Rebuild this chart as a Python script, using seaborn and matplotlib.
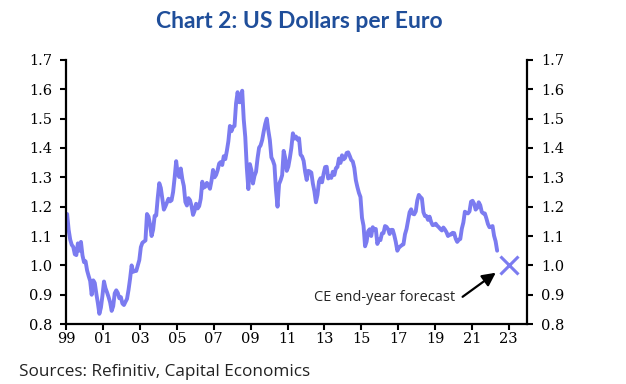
import numpy as np
import pandas as pd
import matplotlib
matplotlib.use('Agg')
import matplotlib.pyplot as plt
import seaborn as sns

# monthly USD per EUR (Jan 1999 .. May 2022)
start_year = 1999
usd_per_eur = [
    # 1999
    1.175, 1.121, 1.088, 1.070, 1.063, 1.038, 1.035, 1.075, 1.050, 1.080, 1.034, 1.011,
    # 2000
    1.014, 0.983, 0.964, 0.947, 0.900, 0.949, 0.940, 0.904, 0.872, 0.835, 0.856, 0.897,
    # 2001
    0.945, 0.922, 0.908, 0.892, 0.874, 0.845, 0.861, 0.905, 0.915, 0.906, 0.888, 0.892,
    # 2002
    0.870, 0.865, 0.876, 0.886, 0.917, 0.955, 1.000, 0.978, 0.981, 0.981, 1.000, 1.018,
    # 2003
    1.062, 1.077, 1.081, 1.085, 1.175, 1.166, 1.138, 1.100, 1.122, 1.169, 1.170, 1.230,
    # 2004
    1.280, 1.264, 1.226, 1.190, 1.201, 1.214, 1.227, 1.218, 1.222, 1.250, 1.299, 1.355,
    # 2005
    1.312, 1.301, 1.330, 1.294, 1.270, 1.216, 1.204, 1.229, 1.222, 1.202, 1.172, 1.186,
    # 2006
    1.210, 1.194, 1.202, 1.227, 1.285, 1.265, 1.268, 1.281, 1.273, 1.261, 1.288, 1.325,
    # 2007
    1.300, 1.308, 1.324, 1.347, 1.352, 1.342, 1.372, 1.362, 1.390, 1.423, 1.475, 1.457,
    # 2008
    1.472, 1.475, 1.552, 1.590, 1.556, 1.556, 1.595, 1.497, 1.437, 1.332, 1.260, 1.345,
    # 2009
    1.324, 1.279, 1.305, 1.319, 1.365, 1.401, 1.409, 1.427, 1.456, 1.482, 1.500, 1.460,
    # 2010
    1.427, 1.368, 1.357, 1.341, 1.256, 1.200, 1.277, 1.290, 1.307, 1.390, 1.366, 1.322,
    # 2011
    1.336, 1.365, 1.400, 1.450, 1.432, 1.439, 1.428, 1.433, 1.377, 1.371, 1.356, 1.318,
    # 2012
    1.291, 1.322, 1.320, 1.316, 1.279, 1.253, 1.215, 1.240, 1.286, 1.297, 1.283, 1.312,
    # 2013
    1.335, 1.336, 1.296, 1.303, 1.298, 1.319, 1.308, 1.331, 1.335, 1.364, 1.349, 1.375,
    # 2014
    1.361, 1.366, 1.383, 1.385, 1.373, 1.359, 1.354, 1.332, 1.290, 1.267, 1.247, 1.233,
    # 2015
    1.162, 1.135, 1.065, 1.081, 1.116, 1.123, 1.100, 1.130, 1.122, 1.124, 1.073, 1.088,
    # 2016
    1.086, 1.109, 1.110, 1.134, 1.131, 1.123, 1.107, 1.121, 1.121, 1.103, 1.080, 1.050,
    # 2017
    1.060, 1.065, 1.069, 1.072, 1.106, 1.124, 1.153, 1.181, 1.191, 1.176, 1.174, 1.184,
    # 2018
    1.221, 1.240, 1.233, 1.228, 1.181, 1.168, 1.168, 1.155, 1.166, 1.148, 1.137, 1.138,
    # 2019
    1.142, 1.135, 1.130, 1.124, 1.119, 1.129, 1.122, 1.113, 1.100, 1.105, 1.105, 1.111,
    # 2020
    1.110, 1.091, 1.080, 1.087, 1.090, 1.125, 1.146, 1.183, 1.179, 1.177, 1.184, 1.217,
    # 2021
    1.220, 1.210, 1.190, 1.196, 1.215, 1.205, 1.182, 1.177, 1.177, 1.160, 1.141, 1.130,
    # 2022
    1.131, 1.134, 1.101, 1.082, 1.050,
]

forecast_year = 2023
forecast_value = 1.0

year_ticks = list(range(1999, 2024, 2))
year_labels = ['99', '01', '03', '05', '07', '09', '11', '13', '15', '17', '19', '21', '23']
y_ticks = [0.8, 0.9, 1.0, 1.1, 1.2, 1.3, 1.4, 1.5, 1.6, 1.7]

line_col = '#7b7bf0'
sans = ['Open Sans', 'DejaVu Sans']

df = pd.DataFrame({
    'date': start_year + (np.arange(len(usd_per_eur)) + 0.5) / 12,
    'rate': usd_per_eur,
})

sns.set_style('ticks')
plt.rcParams['font.family'] = ['DejaVu Serif']

fig = plt.figure(figsize=(6.26, 3.84), dpi=100)
ax = fig.add_axes([0.106, 0.156, 0.736, 0.688])

sns.lineplot(data=df, x='date', y='rate', ax=ax, color=line_col, lw=2.8)
ax.plot([forecast_year], [forecast_value], marker='x', ms=13, mew=2.2,
        color=line_col, ls='none')

ax.set_xlim(1999, 2024)
ax.set_ylim(0.8, 1.7)
ax.set_xticks(year_ticks)
ax.set_xticklabels(year_labels)
ax.set_yticks(y_ticks)
ax.set_yticklabels(['%.1f' % v for v in y_ticks])
ax.set_xlabel('')
ax.set_ylabel('')

ax.tick_params(axis='both', labelsize=10.5, length=4, width=1.5, colors='black',
               direction='out')
ax.tick_params(axis='y', right=True, labelright=True, pad=6)
ax.tick_params(axis='x', pad=2)
for s in ['left', 'right', 'bottom']:
    ax.spines[s].set_linewidth(1.6)
    ax.spines[s].set_color('black')
ax.spines['top'].set_visible(False)

# forecast label + arrow
ax.text(2020.1, 0.89, 'CE end-year forecast', ha='right', va='center',
        fontsize=10.5, family=sans)
ax.annotate('', xy=(2022.3, 0.975), xytext=(2020.5, 0.893),
            arrowprops=dict(arrowstyle='-|>', color='black', lw=1.6,
                            mutation_scale=20, shrinkA=0, shrinkB=0))

fig.text(0.478, 0.945, 'Chart 2: US Dollars per Euro', ha='center', va='center',
         fontsize=16.5, fontweight='bold', color='#1f4e9a', family=['Lato', 'DejaVu Sans'])
fig.text(0.03, 0.031, 'Sources: Refinitiv, Capital Economics', ha='left', va='center',
         fontsize=12.3, color='#222222', family=sans)

fig.savefig('out.png', dpi=100)
